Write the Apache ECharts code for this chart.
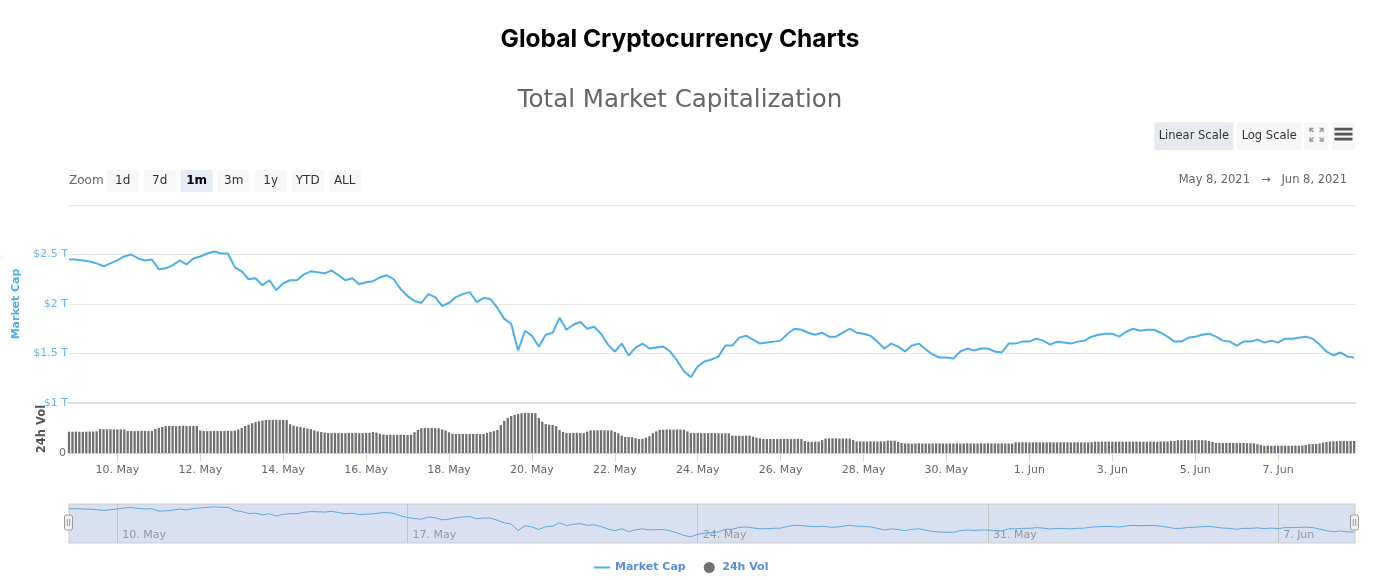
<!DOCTYPE html>
<html lang="en">
<head>
<meta charset="utf-8">
<title>Global Cryptocurrency Charts</title>
<script src="https://cdn.jsdelivr.net/npm/echarts@6.0.0/dist/echarts.min.js"></script>
<style>
    html, body { margin: 0; padding: 0; background: #fff; }
    #chart { width: 1373px; height: 580px; }
</style>
</head>
<body>
<div id="chart"></div>
<script>
// total market cap, $ trillions, one reading every 4 hours from May 8 20:00
var capStepHours = 4;
var capValues = [
    2.45, 2.45, 2.44, 2.43, 2.41, 2.38, 2.41, 2.44, 2.48, 2.50,
    2.46, 2.44, 2.45, 2.35, 2.36, 2.39, 2.44, 2.40, 2.46, 2.48,
    2.51, 2.53, 2.51, 2.51, 2.37, 2.33, 2.25, 2.26, 2.19, 2.24,
    2.14, 2.21, 2.24, 2.24, 2.30, 2.33, 2.32, 2.31, 2.34, 2.29,
    2.24, 2.26, 2.20, 2.22, 2.23, 2.27, 2.29, 2.25, 2.15, 2.08,
    2.03, 2.01, 2.10, 2.07, 1.98, 2.01, 2.07, 2.10, 2.12, 2.02,
    2.06, 2.05, 1.96, 1.85, 1.80, 1.53, 1.73, 1.68, 1.57, 1.69,
    1.71, 1.86, 1.74, 1.79, 1.82, 1.75, 1.77, 1.70, 1.59, 1.52,
    1.60, 1.48, 1.56, 1.60, 1.55, 1.56, 1.57, 1.52, 1.43, 1.32,
    1.26, 1.37, 1.42, 1.44, 1.47, 1.58, 1.58, 1.66, 1.68, 1.64,
    1.60, 1.61, 1.62, 1.63, 1.70, 1.75, 1.74, 1.71, 1.69, 1.71,
    1.67, 1.67, 1.71, 1.75, 1.71, 1.70, 1.68, 1.62, 1.55, 1.60,
    1.57, 1.52, 1.58, 1.60, 1.54, 1.49, 1.46, 1.46, 1.45, 1.52,
    1.55, 1.53, 1.55, 1.55, 1.52, 1.51, 1.60, 1.60, 1.62, 1.62,
    1.65, 1.63, 1.59, 1.62, 1.61, 1.60, 1.62, 1.63, 1.67, 1.69,
    1.70, 1.70, 1.67, 1.72, 1.75, 1.73, 1.74, 1.74, 1.71, 1.67,
    1.62, 1.62, 1.66, 1.67, 1.69, 1.70, 1.67, 1.63, 1.62, 1.58,
    1.62, 1.62, 1.64, 1.61, 1.63, 1.61, 1.65, 1.65, 1.66, 1.67,
    1.65, 1.59, 1.52, 1.48, 1.51, 1.47, 1.46
];

// 24h volume, $ billions, one reading every 2 hours from May 8 20:00
var volStepHours = 2;
var volValues = [
    222, 221, 223, 222, 220, 222, 224, 223, 226,
    250, 248,
    247, 248, 247, 246, 247, 245,
    229, 230, 228, 229, 231, 229, 228, 230,
    250, 262, 272,
    281, 282, 281, 280, 282, 283, 281, 280, 282, 281,
    235,
    229, 228, 229, 230, 229, 228, 229, 230, 228,
    233, 245, 262, 281, 295, 310, 322, 330, 338,
    344, 345, 344, 346, 344, 343, 344,
    300, 285, 276, 271, 262, 255, 250, 235, 225, 219, 212,
    208, 207, 209, 210, 208, 207, 209, 208, 210, 207, 208, 209, 210,
    219, 212, 200, 192,
    188, 189, 187, 188, 190, 188, 187, 189,
    216, 240,
    258, 260, 261, 260, 259, 258,
    245, 235, 215,
    198, 197, 199, 198, 197, 199, 198, 200, 197, 199,
    210, 219, 228, 240, 290, 335, 365, 385, 398, 408,
    415, 417, 418, 417, 416,
    365, 325, 300, 295, 292, 280, 240, 220,
    208, 207, 209, 210, 208, 207,
    222, 236,
    236, 237, 238, 237, 236, 235,
    220, 205, 180, 167, 167, 165, 155, 146, 148, 160, 175, 205, 225, 240,
    243, 245, 244, 243, 245, 244, 242,
    225,
    208, 209, 208, 207, 206, 207, 208, 207, 206, 205, 206, 205,
    182, 180, 181, 179, 180, 181,
    170, 160, 152, 146,
    146, 147, 146, 145, 146, 147, 146, 145, 146, 147, 146,
    125,
    118, 117, 119, 118,
    135, 150,
    152, 153, 152, 151, 152, 151, 150,
    135,
    121, 122, 121, 120, 122, 121, 120, 121, 122,
    128, 127, 128,
    115, 105,
    99, 100, 98, 99, 101, 99, 100, 98, 99, 100, 101, 99, 98, 100, 99, 100,
    98, 99, 101, 100, 99, 98, 100, 99, 101, 100, 99, 98, 100, 99, 100, 99,
    111, 110, 112, 111, 110, 111, 112, 111, 110, 111, 112, 110,
    111, 112, 111, 112, 110, 111, 112, 111, 110, 111, 112,
    118, 117, 118, 119, 118, 117, 118, 119, 118, 117, 118, 118, 119, 118, 117, 118, 119, 118, 117,
    120, 121, 120,
    126, 126,
    134, 133, 135, 134, 133, 135, 134, 133, 132,
    125, 115,
    104, 105, 103, 104, 105, 104, 103, 104, 105, 103, 102,
    100, 92, 84,
    76, 77, 76, 75, 76, 77, 76, 75, 76, 77, 76, 78,
    85, 92, 94, 95, 100, 108, 115, 120,
    122, 124, 125, 126, 125, 126, 125
];

var mainTickDays = ['2021-05-10', '2021-05-12', '2021-05-14', '2021-05-16', '2021-05-18', '2021-05-20',
    '2021-05-22', '2021-05-24', '2021-05-26', '2021-05-28', '2021-05-30', '2021-06-01',
    '2021-06-03', '2021-06-05', '2021-06-07'];
var navTickDays = ['2021-05-10', '2021-05-17', '2021-05-24', '2021-05-31', '2021-06-07'];
var zoomButtons = ['1d', '7d', '1m', '3m', '1y', 'YTD', 'ALL'];
var dateRange = ['May 8, 2021', 'Jun 8, 2021'];
var months = ['Jan', 'Feb', 'Mar', 'Apr', 'May', 'Jun', 'Jul', 'Aug', 'Sep', 'Oct', 'Nov', 'Dec'];

var H = 3600000;
var t0 = new Date(2021, 4, 8, 20, 0).getTime();
var tEnd = new Date(2021, 5, 8, 20, 30).getTime();

function day(s) {
    var p = s.split('-');
    return new Date(+p[0], +p[1] - 1, +p[2]).getTime();
}
function dayLabel(v) {
    var d = new Date(v);
    return d.getDate() + '. ' + months[d.getMonth()];
}

var capData = capValues.map(function (v, i) { return [t0 + i * capStepHours * H, v]; });
var volData = volValues.map(function (v, i) { return [t0 + i * volStepHours * H, v]; });
var mainTicks = mainTickDays.map(day);
var navTicks = navTickDays.map(day);

// page furniture: titles, range buttons, scale buttons
var g = [];
function txt(x, y, s, font, color, align) {
    g.push({
        type: 'text', x: x, y: y,
        style: {
            text: s, font: font, fill: color,
            align: align || 'left', textAlign: align || 'left',
            verticalAlign: 'middle', textVerticalAlign: 'middle'
        }
    });
}
function box(x, y, w, h, fill, stroke) {
    g.push({
        type: 'rect', shape: { x: x, y: y, width: w, height: h, r: 2 },
        style: { fill: fill, stroke: stroke || null, lineWidth: 1 }
    });
}
function seg(pts, color, w) {
    g.push({ type: 'polyline', shape: { points: pts }, style: { stroke: color, lineWidth: w || 1, fill: null } });
}

txt(680, 40, 'Global Cryptocurrency Charts', 'bold 24.5px Inter', '#000', 'center');
txt(680, 100.5, 'Total Market Capitalization', '24.5px "DejaVu Sans"', '#666', 'center');

txt(69, 181, 'Zoom', '12px "DejaVu Sans"', '#666');
zoomButtons.forEach(function (b, i) {
    var x = 106.7 + i * 37;
    var sel = b === '1m';
    box(x, 170, 32, 22, sel ? '#e6ebf5' : '#f7f7f7');
    txt(x + 16, 181, b, (sel ? 'bold ' : '') + '12px "DejaVu Sans"', sel ? '#000' : '#333', 'center');
});
txt(1250, 180, dateRange[0], '11.5px "DejaVu Sans"', '#666', 'right');
txt(1266, 180, '\u2192', '11.5px "DejaVu Sans"', '#666', 'center');
txt(1347, 180, dateRange[1], '11.5px "DejaVu Sans"', '#666', 'right');

box(1154.3, 122.3, 79, 27.7, '#e6e9ed');
txt(1193.8, 136, 'Linear Scale', '11.5px "DejaVu Sans"', '#333', 'center');
box(1236.7, 122.3, 65, 27.7, '#f7f7f7');
txt(1269.2, 136, 'Log Scale', '11.5px "DejaVu Sans"', '#333', 'center');
box(1304.3, 122.3, 24, 27.7, '#f7f7f7');
seg([[1310, 132], [1310, 128.5], [1313.5, 128.5]], '#999', 1.5);
seg([[1310, 128.5], [1313.5, 132]], '#999', 1.5);
seg([[1319.5, 128.5], [1323, 128.5], [1323, 132]], '#999', 1.5);
seg([[1323, 128.5], [1319.5, 132]], '#999', 1.5);
seg([[1310, 137.5], [1310, 141], [1313.5, 141]], '#999', 1.5);
seg([[1310, 141], [1313.5, 137.5]], '#999', 1.5);
seg([[1319.5, 141], [1323, 141], [1323, 137.5]], '#999', 1.5);
seg([[1323, 141], [1319.5, 137.5]], '#999', 1.5);
box(1331.7, 122.3, 23.3, 27.7, '#f7f7f7');
[127.7, 132.7, 137.7].forEach(function (y) {
    g.push({ type: 'rect', shape: { x: 1334.5, y: y, width: 18, height: 2.8 }, style: { fill: '#555' } });
});

// navigator handles
[68.5, 1354.5].forEach(function (cx) {
    box(cx - 4, 515, 8, 15, '#f2f2f2', '#999');
    seg([[cx - 1.2, 519], [cx - 1.2, 526]], '#999', 1);
    seg([[cx + 1.2, 519], [cx + 1.2, 526]], '#999', 1);
});

var chart = echarts.init(document.getElementById('chart'), null, { renderer: 'canvas' });
var option = {
    animation: false,
    textStyle: { fontFamily: 'DejaVu Sans' },
    graphic: { elements: g },
    legend: {
        left: 589, top: 557,
        itemWidth: 16, itemHeight: 11, itemGap: 18,
        textStyle: { color: '#5a8dd5', fontWeight: 'bold', fontSize: 11 },
        data: [
            { name: 'Market Cap', icon: 'path://M0,0H16V2H0Z' },
            { name: '24h Vol', icon: 'circle' }
        ]
    },
    grid: [
        { left: 69, right: 18, top: 205, height: 198 },
        { left: 69, right: 18, top: 405, height: 48 },
        { left: 69, right: 18, top: 504, height: 39, show: true,
          backgroundColor: 'rgba(102,133,194,0.25)', borderColor: '#cccccc', borderWidth: 1 }
    ],
    xAxis: [
        { type: 'value', gridIndex: 0, min: t0, max: tEnd,
          axisLine: { show: true, lineStyle: { color: '#dcdcdc', width: 2 } },
          axisTick: { show: false }, axisLabel: { show: false }, splitLine: { show: false } },
        { type: 'value', gridIndex: 1, min: t0, max: tEnd,
          axisLine: { show: true, lineStyle: { color: '#ccd6eb' } },
          axisTick: { show: true, length: 8, lineStyle: { color: '#ccd6eb' }, customValues: mainTicks },
          axisLabel: { customValues: mainTicks, formatter: dayLabel, color: '#666', fontSize: 11, margin: 12 },
          splitLine: { show: false } },
        { type: 'value', gridIndex: 2, min: t0, max: tEnd,
          axisLine: { show: false },
          axisTick: { show: false, customValues: navTicks },
          axisLabel: { inside: true, customValues: navTicks, formatter: dayLabel, color: '#999', fontSize: 11,
                       align: 'left', padding: [0, 0, 0, 5], margin: 2 },
          splitLine: { show: true, lineStyle: { color: '#c4c4c4' } } }
    ],
    yAxis: [
        { type: 'value', gridIndex: 0, min: 1, max: 3, interval: 0.5,
          name: 'Market Cap', nameLocation: 'middle', nameGap: 47,
          nameTextStyle: { color: '#4eaee6', fontWeight: 'bold', fontSize: 11 },
          axisLine: { show: false }, axisTick: { show: false },
          axisLabel: { showMaxLabel: false, color: '#6cb4ea', fontSize: 11, margin: 1,
                       formatter: function (v) { return '$' + v + ' T'; } },
          splitLine: { lineStyle: { color: '#e6e6e6' } } },
        { type: 'value', gridIndex: 1, min: 0, max: 500,
          name: '24h Vol', nameLocation: 'middle', nameGap: 18,
          nameTextStyle: { color: '#555', fontWeight: 'bold', fontSize: 11.5 },
          axisLine: { show: false }, axisTick: { show: false },
          axisLabel: { customValues: [0], color: '#666', fontSize: 11, margin: 3 },
          splitLine: { show: false } },
        { type: 'value', gridIndex: 2, min: 1, max: 2.65, show: false }
    ],
    series: [
        { name: 'Market Cap', type: 'line', xAxisIndex: 0, yAxisIndex: 0, data: capData,
          showSymbol: false, color: '#4eaee6', lineStyle: { width: 2 }, z: 3 },
        { name: '24h Vol', type: 'bar', xAxisIndex: 1, yAxisIndex: 1, data: volData,
          barWidth: 2.3, color: '#707070' },
        { name: 'navigator', type: 'line', xAxisIndex: 2, yAxisIndex: 2, data: capData,
          showSymbol: false, color: '#5ba7e0', lineStyle: { width: 1 }, silent: true }
    ]
};
chart.setOption(option);
</script>
</body>
</html>
